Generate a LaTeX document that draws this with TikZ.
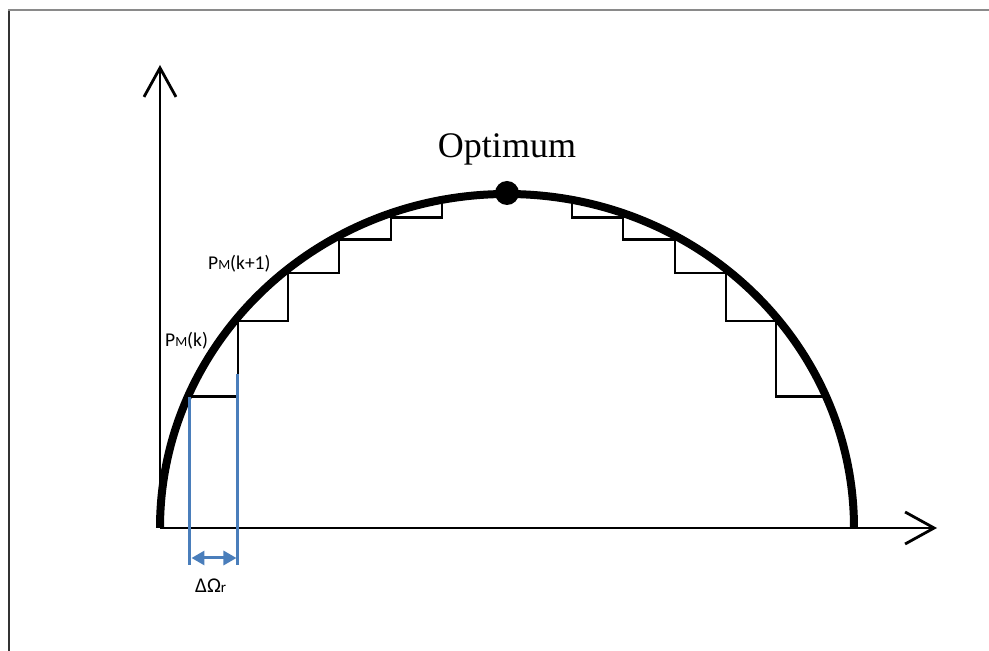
\documentclass[tikz,border=0pt]{standalone}
\usepackage{fontspec}
\setmainfont{Liberation Serif}
\newfontfamily\labelfont{Carlito}
\usepackage{tikz}
\usetikzlibrary{arrows.meta}
\definecolor{StepBlue}{HTML}{4A7EBB}
\definecolor{FrameGray}{HTML}{8A8A8A}
\definecolor{FrameDark}{HTML}{333333}

\begin{document}
\begin{tikzpicture}[x=1pt, y=1pt,
    declare function={hstep(\x)=334*sqrt(1-((\x-347)/347)^2)-4;},
    axis/.style={line width=2.8pt, -{Straight Barb[length=29pt, width=32pt]}},
    stair/.style={line width=2.8pt, line cap=round},
    bluemark/.style={StepBlue, line width=3pt}]
    \useasboundingbox (-160,-123) rectangle (829,528);
    % Frame (only left and top edges show)
    \draw[FrameDark, line width=2pt] (-150.5,-123) -- (-150.5,518);
    \draw[FrameGray, line width=2pt] (-151.5,518) -- (829,518);
    % Axes
    \coordinate (origin) at (0,0);
    \coordinate (xend) at (777,0);
    \coordinate (yend) at (0,463);
    \draw[axis] (origin) -- (xend);
    \draw[axis] (origin) -- (yend);
    % Power curve
    \draw[line width=8pt] (origin) arc[start angle=180, end angle=0, x radius=347pt, y radius=334pt];
    % Left staircase
    \foreach \xa/\xb in {30/78, 78/128, 128/179, 179/231, 231/282}
        \draw[stair] (\xa,{hstep(\xa)}) -- (\xb,{hstep(\xa)}) -- (\xb,{hstep(\xb)});
    % Right staircase
    \foreach \xa/\xb in {412/463, 463/515, 515/566, 566/616, 616/664}
        \draw[stair] (\xa,{hstep(\xa)}) -- (\xa,{hstep(\xb)}) -- (\xb,{hstep(\xb)});
    % Step width
    \coordinate (stepAtop) at (30,131);
    \coordinate (stepBtop) at (78,154);
    \coordinate (stepAbot) at (30,-37);
    \coordinate (stepBbot) at (78,-37);
    \draw[bluemark] (stepAtop) -- (stepAbot);
    \draw[bluemark] (stepBtop) -- (stepBbot);
    \draw[bluemark, {Triangle[length=13pt, width=14pt]}-{Triangle[length=13pt, width=14pt]}]
        ([xshift=1.5pt, yshift=7pt]stepAbot) -- ([xshift=-1.5pt, yshift=7pt]stepBbot);
    % Optimum
    \fill (347,335) circle[radius=12];
    \node[anchor=base, font=\fontsize{36}{36}\selectfont] (optlabel) at (347,370) {Optimum};
    % Labels
    \node[anchor=base west, inner sep=0pt, font=\labelfont\fontsize{19.5}{19.5}\selectfont] (pmk1) at (48,258)
        {P{\fontsize{14}{14}\selectfont M}(k+1)};
    \node[anchor=base west, inner sep=0pt, font=\labelfont\fontsize{19.5}{19.5}\selectfont] (pmk) at (5,181)
        {P{\fontsize{14}{14}\selectfont M}(k)};
    \node[anchor=base west, inner sep=0pt, font=\labelfont\fontsize{21}{21}\selectfont] (domega) at (35,-65)
        {ΔΩ{\fontsize{15}{15}\selectfont r}};
\end{tikzpicture}
\end{document}
